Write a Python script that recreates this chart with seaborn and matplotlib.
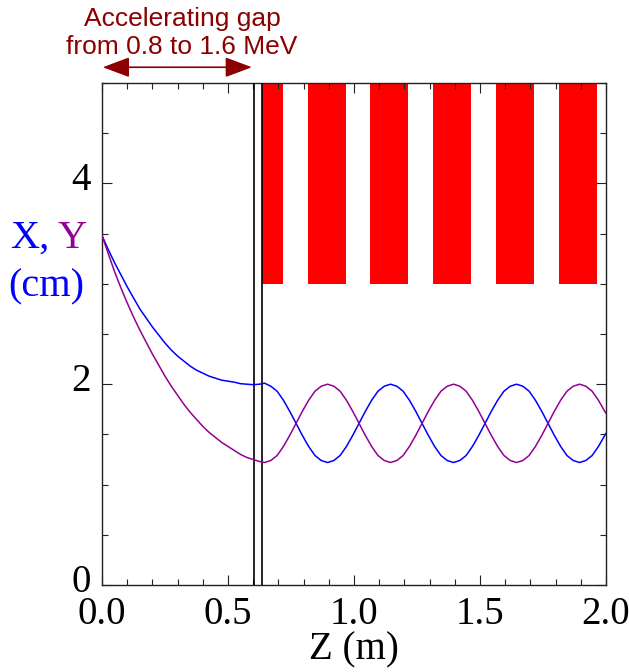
import numpy as np
import seaborn as sns
import matplotlib.pyplot as plt
import matplotlib.transforms as mtransforms
from matplotlib.ticker import MultipleLocator

# beam envelope, z in metres, X / Y in cm
z_pos = [0.000, 0.025, 0.050, 0.075, 0.100, 0.125, 0.150, 0.175, 0.200, 0.225,
         0.250, 0.275, 0.300, 0.325, 0.350, 0.375, 0.400, 0.425, 0.450, 0.475,
         0.500, 0.525, 0.550, 0.575, 0.600, 0.625,
         0.645, 0.670, 0.695, 0.720, 0.745, 0.770, 0.795, 0.820, 0.845, 0.870,
         0.895, 0.920, 0.945, 0.970, 0.995, 1.020, 1.045, 1.070, 1.095, 1.120,
         1.145, 1.170, 1.195, 1.220, 1.245, 1.270, 1.295, 1.320, 1.345, 1.370,
         1.395, 1.420, 1.445, 1.470, 1.495, 1.520, 1.545, 1.570, 1.595, 1.620,
         1.645, 1.670, 1.695, 1.720, 1.745, 1.770, 1.795, 1.820, 1.845, 1.870,
         1.895, 1.920, 1.945, 1.970, 1.995, 2.000]

x_env = [3.48, 3.34, 3.21, 3.09, 2.97, 2.86, 2.75, 2.66, 2.57, 2.49,
         2.41, 2.34, 2.28, 2.23, 2.18, 2.14, 2.11, 2.08, 2.06, 2.04,
         2.03, 2.02, 2.005, 2.00, 1.995, 2.00,
         2.01, 1.98, 1.93, 1.84, 1.73, 1.61, 1.49, 1.38, 1.29, 1.24,
         1.22, 1.24, 1.29, 1.38, 1.49, 1.61, 1.73, 1.84, 1.93, 1.98,
         2.00, 1.98, 1.93, 1.84, 1.73, 1.61, 1.49, 1.38, 1.29, 1.24,
         1.22, 1.24, 1.29, 1.38, 1.49, 1.61, 1.73, 1.84, 1.93, 1.98,
         2.00, 1.98, 1.93, 1.84, 1.73, 1.61, 1.49, 1.38, 1.29, 1.24,
         1.22, 1.24, 1.29, 1.38, 1.49, 1.51]

y_env = [3.48, 3.30, 3.12, 2.96, 2.81, 2.67, 2.54, 2.42, 2.30, 2.19,
         2.08, 1.98, 1.89, 1.80, 1.72, 1.65, 1.58, 1.52, 1.47, 1.42,
         1.38, 1.34, 1.30, 1.27, 1.25, 1.23,
         1.22, 1.24, 1.29, 1.38, 1.49, 1.61, 1.73, 1.84, 1.93, 1.98,
         2.00, 1.98, 1.93, 1.84, 1.73, 1.61, 1.49, 1.38, 1.29, 1.24,
         1.22, 1.24, 1.29, 1.38, 1.49, 1.61, 1.73, 1.84, 1.93, 1.98,
         2.00, 1.98, 1.93, 1.84, 1.73, 1.61, 1.49, 1.38, 1.29, 1.24,
         1.22, 1.24, 1.29, 1.38, 1.49, 1.61, 1.73, 1.84, 1.93, 1.98,
         2.00, 1.98, 1.93, 1.84, 1.73, 1.71]

# quadrupole magnets (red blocks)
quad_start = [0.634, 0.817, 1.063, 1.313, 1.563, 1.813]
quad_end = [0.718, 0.968, 1.214, 1.464, 1.714, 1.964]
quad_bottom = 3.0
quad_top = 5.0

# accelerating gap edges
gap_lines = [0.605, 0.634]

blue = "#0000ff"
purple = "#930093"
darkred = "#8b0000"
serif = "Liberation Serif"

fig = plt.figure(figsize=(6.29, 6.72), dpi=100)
ax = fig.add_axes([102 / 629, 1 - 585 / 672, 504 / 629, 502 / 672])

widths = np.array(quad_end) - np.array(quad_start)
ax.bar(quad_start, quad_top - quad_bottom, width=widths, bottom=quad_bottom,
       align="edge", color="red", linewidth=0, zorder=1)

for g in gap_lines:
    ax.axvline(g, color="black", lw=1.2, zorder=3)

sns.lineplot(x=z_pos, y=x_env, ax=ax, color=blue, lw=1.1, sort=False, zorder=4)
sns.lineplot(x=z_pos, y=y_env, ax=ax, color=purple, lw=1.1, sort=False, zorder=4)

ax.set_xlim(0, 2.0)
ax.set_ylim(0, 5.0)
ax.xaxis.set_major_locator(MultipleLocator(0.5))
ax.xaxis.set_minor_locator(MultipleLocator(0.1))
ax.yaxis.set_major_locator(MultipleLocator(2))
ax.yaxis.set_minor_locator(MultipleLocator(0.5))
ax.xaxis.set_major_formatter(plt.FuncFormatter(lambda v, p: f"{v:.1f}"))
ax.yaxis.set_major_formatter(plt.FuncFormatter(lambda v, p: f"{v:.0f}"))

ax.tick_params(which="both", direction="in", top=True, right=True, width=0.8, color="#222222")
ax.tick_params(which="major", length=7)
ax.tick_params(which="minor", length=4)
ax.tick_params(axis="x", which="major", pad=8)
ax.tick_params(axis="y", which="major", pad=8)
for lab in ax.get_xticklabels() + ax.get_yticklabels():
    lab.set_fontfamily(serif)
    lab.set_fontsize(28)
# y tick labels sit a little above their ticks in the original
lift = mtransforms.ScaledTranslation(0, 7 / 100, fig.dpi_scale_trans)
for lab in ax.get_yticklabels():
    lab.set_transform(lab.get_transform() + lift)
for s in ax.spines.values():
    s.set_linewidth(1.0)
    s.set_color("#222222")

ax.set_xlabel("Z (m)", fontfamily=serif, fontsize=28, labelpad=-1)
ax.set_ylabel("")

# y label in two colours
fig.text(10 / 629, 1 - 248 / 672, "X,", color=blue, fontfamily=serif, fontsize=29,
         ha="left", va="baseline")
fig.text(57 / 629, 1 - 248 / 672, "Y", color=purple, fontfamily=serif, fontsize=29,
         ha="left", va="baseline")
fig.text(8 / 629, 1 - 296 / 672, "(cm)", color=blue, fontfamily=serif, fontsize=29,
         ha="left", va="baseline")

# accelerating gap annotation
ax.annotate("", xy=(0.595, 5.157), xytext=(0.003, 5.157), annotation_clip=False,
            arrowprops=dict(arrowstyle="<|-|>,head_length=1.66,head_width=0.62",
                            color=darkred, lw=1.2, mutation_scale=10,
                            shrinkA=0, shrinkB=0))
fig.text(182 / 629, 1 - 33 / 672, "Accelerating gap\nfrom 0.8 to 1.6 MeV",
         color=darkred, fontfamily="Liberation Sans", fontsize=19,
         ha="center", va="center", linespacing=1.25)

fig.savefig("out.png", dpi=100)
